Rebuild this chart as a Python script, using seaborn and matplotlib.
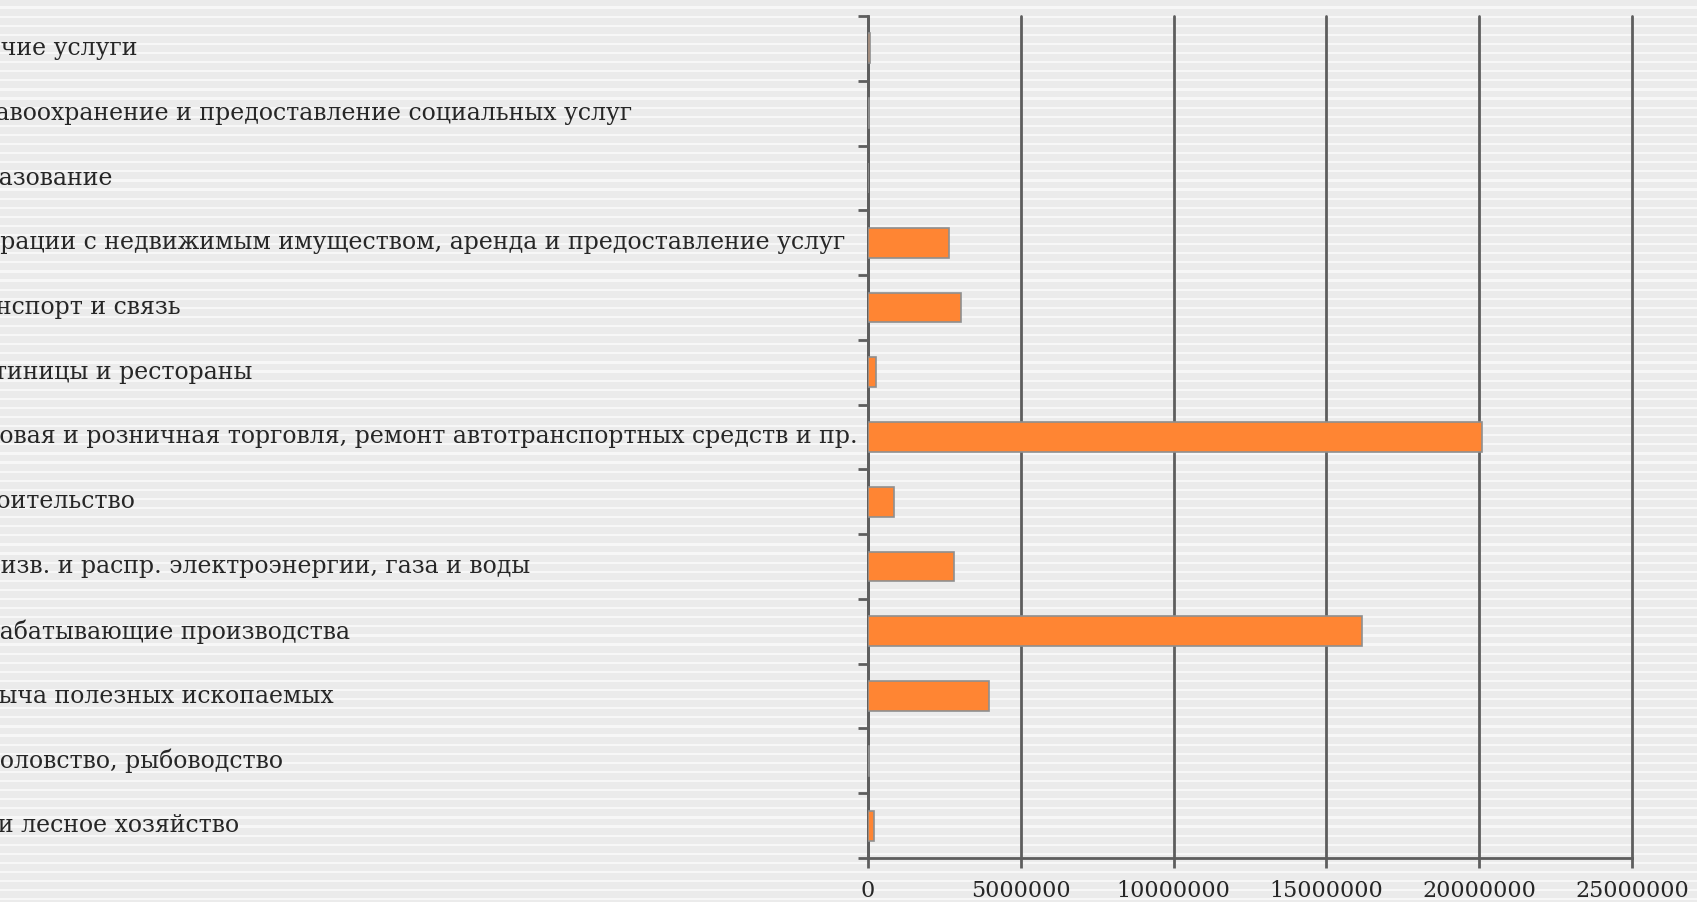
import numpy as np
import pandas as pd
import matplotlib
matplotlib.use("Agg")
import matplotlib.pyplot as plt
from matplotlib import transforms
import seaborn as sns

# ---- data (top to bottom) ----
categories = [
    "Прочие услуги",
    "Здравоохранение и предоставление социальных услуг",
    "Образование",
    "Операции с недвижимым имуществом, аренда и предоставление услуг",
    "Транспорт и связь",
    "Гостиницы и рестораны",
    "Оптовая и розничная торговля, ремонт автотранспортных средств и пр.",
    "Строительство",
    "Произв. и распр. электроэнергии, газа и воды",
    "Обрабатывающие производства",
    "Добыча полезных ископаемых",
    "Рыболовство, рыбоводство",
    "С/х и лесное хозяйство",
]
values = [70000, 40000, 10000, 2660000, 3050000, 250000, 20080000,
          850000, 2800000, 16180000, 3970000, 20000, 210000]
xticks = [0, 5000000, 10000000, 15000000, 20000000, 25000000]
xtick_labels = ["0", "5000000", "10000000", "15000000", "20000000", "25000000"]

W, H = 1697, 902
sns.set_theme(style="white")
plt.rcParams["font.family"] = ["DejaVu Serif", "DejaVu Sans"]

fig = plt.figure(figsize=(W / 100, H / 100), dpi=100)
fig.patch.set_facecolor("#ececec")

# striped background
bg = fig.add_axes([0, 0, 1, 1], zorder=-10)
rows = np.arange(H)
white = ((rows - 6) % 9.1) < 2.2
col = np.where(white, 0.972, 0.925)
img = np.repeat(col[:, None], 4, axis=1)
img = np.stack([img, img, img], axis=-1)
bg.imshow(img, aspect="auto", interpolation="nearest", extent=[0, 1, 0, 1])
bg.axis("off")

left, right, top, bottom = 868, 1632, 16, 858
ax = fig.add_axes([left / W, 1 - bottom / H, (right - left) / W, (bottom - top) / H])
ax.patch.set_alpha(0)

df = pd.DataFrame({"Отрасль": categories, "Значение": values})
sns.barplot(data=df, x="Значение", y="Отрасль", orient="h", color="#FF8533",
            saturation=1, edgecolor="#8f8f8f", linewidth=1.2, width=0.46, ax=ax, zorder=3)

ax.set_xlim(0, 25000000)
ax.set_ylim(12.5, -0.5)
ax.set_xticks(xticks)
ax.set_xticklabels(xtick_labels)
ax.set_yticks(np.arange(-0.5, 13, 1))
ax.set_yticklabels([])
ax.set_xlabel("")
ax.set_ylabel("")
ax.xaxis.grid(True, color="#5e5e5e", linewidth=2, zorder=1)
for gl in ax.get_xgridlines():
    gl.set_clip_on(False)
ax.yaxis.grid(False)
for s in ["top", "right"]:
    ax.spines[s].set_visible(False)
for s in ["left", "bottom"]:
    ax.spines[s].set_color("#5e5e5e")
    ax.spines[s].set_linewidth(2)
ax.tick_params(axis="y", left=True, length=7, width=2, color="#5e5e5e")
ax.tick_params(axis="x", bottom=True, length=7, width=2, color="#5e5e5e",
               pad=9, labelsize=16, labelcolor="#262626")

trans = transforms.blended_transform_factory(fig.transFigure, ax.transData)
for i, lab in enumerate(categories):
    ax.text(-49 / W, i, lab, transform=trans, ha="left", va="center",
            fontsize=17.0, color="#262626", clip_on=False)

fig.savefig("out.png", dpi=100, facecolor=fig.get_facecolor())
